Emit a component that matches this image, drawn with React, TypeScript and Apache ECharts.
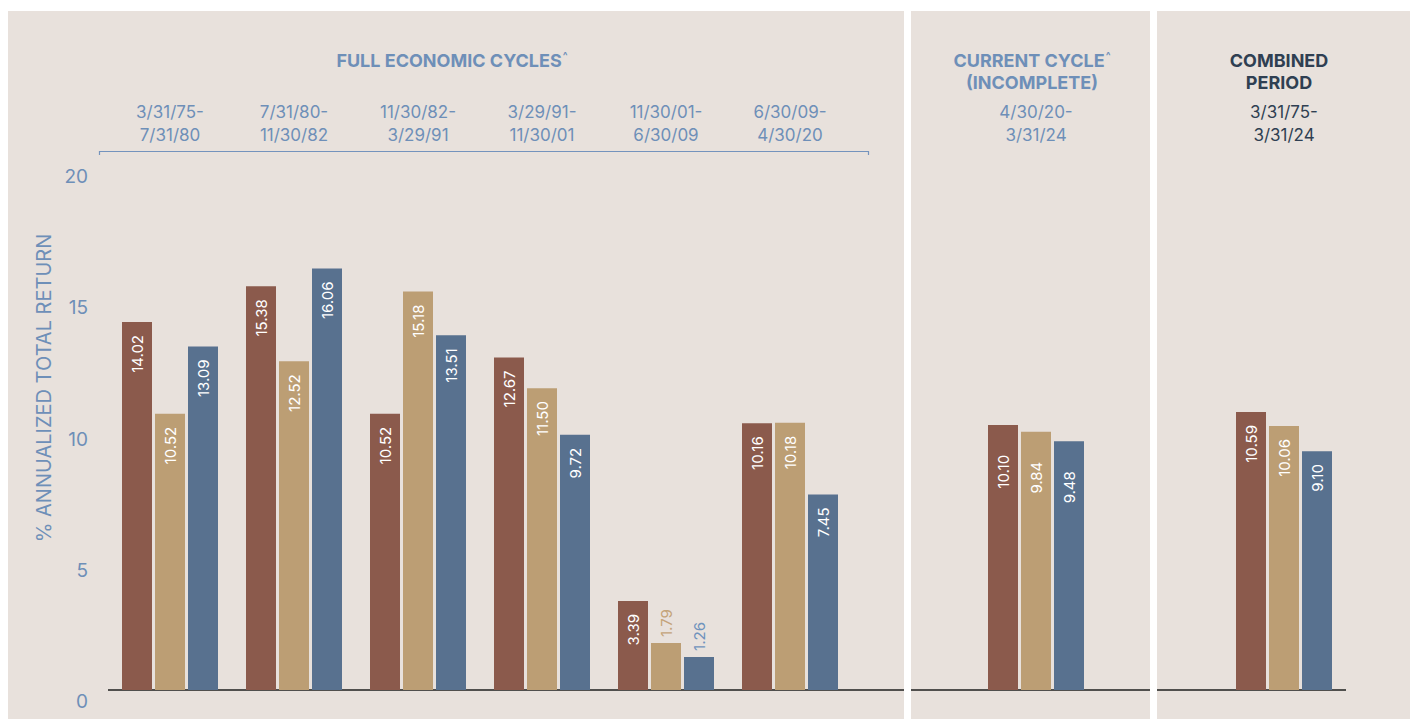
import React, { useEffect, useRef } from "react";
import * as echarts from "echarts";

const categories = [
  "3/31/75-\n7/31/80",
  "7/31/80-\n11/30/82",
  "11/30/82-\n3/29/91",
  "3/29/91-\n11/30/01",
  "11/30/01-\n6/30/09",
  "6/30/09-\n4/30/20",
  "4/30/20-\n3/31/24",
  "3/31/75-\n3/31/24",
];
const seriesNames = ["Series 1", "Series 2", "Series 3"];
const valuesA = [14.02, 15.38, 10.52, 12.67, 3.39, 10.16, 10.1, 10.59];
const valuesB = [10.52, 12.52, 15.18, 11.5, 1.79, 10.18, 9.84, 10.06];
const valuesC = [13.09, 16.06, 13.51, 9.72, 1.26, 7.45, 9.48, 9.1];
const yTicks = [0, 5, 10, 15, 20];
const panelRanges = [
  [0, 6],
  [6, 7],
  [7, 8],
];
const yAxisTitle = "% ANNUALIZED TOTAL RETURN";
const panelTitle1 = "FULL ECONOMIC CYCLES";
const panelTitle2 = ["CURRENT CYCLE", "(INCOMPLETE)"];
const panelTitle3 = ["COMBINED", "PERIOD"];

const BG = "#e8e1dc";
const BLUE_TEXT = "#6e8fb8";
const NAVY = "#2f3f52";
const BAR_COLORS = ["#8b5a4c", "#bc9e74", "#58718f"];
const OUT_LABEL_COLORS = ["#8b5a4c", "#c4a47a", "#7093bd"];
const FONT = "Inter, 'Noto Sans', sans-serif";

export default function App() {
  const ref = useRef<HTMLDivElement>(null);

  useEffect(() => {
    if (!ref.current) return;
    const chart = echarts.init(ref.current, undefined, { renderer: "svg" });
    const allValues = [valuesA, valuesB, valuesC];

    const grids = [
      { left: 108, width: 744, top: 165, height: 525 },
      { left: 974, width: 124, top: 165, height: 525 },
      { left: 1222, width: 124, top: 165, height: 525 },
    ];

    const xAxes = panelRanges.map((r, g) => ({
      type: "category",
      gridIndex: g,
      position: "top",
      data: categories.slice(r[0], r[1]),
      axisLine: { show: false },
      axisTick: { show: false },
      axisLabel: {
        show: true,
        margin: 19,
        fontSize: 17,
        lineHeight: 23,
        fontFamily: FONT,
        color: g === 2 ? NAVY : BLUE_TEXT,
        interval: 0,
      },
    }));

    const yAxes = panelRanges.map((_, g) => ({
      type: "value",
      gridIndex: g,
      min: yTicks[0],
      max: yTicks[yTicks.length - 1],
      interval: yTicks[1] - yTicks[0],
      splitLine: { show: false },
      axisLine: { show: false },
      axisTick: { show: false },
      axisLabel: {
        show: g === 0,
        margin: 20,
        fontSize: 19,
        fontFamily: FONT,
        color: BLUE_TEXT,
        verticalAlign: "top",
        padding: [2, 0, 0, 0],
      },
    }));

    const series: any[] = [];
    panelRanges.forEach((r, g) => {
      allValues.forEach((vals, s) => {
        series.push({
          name: seriesNames[s],
          type: "bar",
          xAxisIndex: g,
          yAxisIndex: g,
          barWidth: 30,
          barGap: "10%",
          z: 3,
          itemStyle: { color: BAR_COLORS[s] },
          label: {
            show: true,
            position: "insideTop",
            rotate: 90,
            align: "right",
            verticalAlign: "middle",
            distance: g === 1 ? 30 : 13,
            color: "#ffffff",
            fontSize: 15,
            fontFamily: FONT,
            formatter: (p: any) => Number(p.value).toFixed(2),
          },
          data: vals.slice(r[0], r[1]).map((v) =>
            v < 2
              ? {
                  value: v,
                  label: {
                    position: "top",
                    align: "left",
                    distance: 6,
                    color: OUT_LABEL_COLORS[s],
                  },
                }
              : v
          ),
        });
      });
    });

    const txt = (x: number, y: number, text: string, opts: any = {}) => ({
      type: "text",
      x,
      y,
      z: 20,
      silent: true,
      style: {
        text,
        align: "center",
        verticalAlign: "middle",
        textAlign: "center",
        textVerticalAlign: "middle",
        fontFamily: FONT,
        ...opts,
      },
    });

    const bRich = (fill: string) => ({
      fontSize: 18,
      fontWeight: "bold",
      fill,
      color: fill,
      fontFamily: FONT,
      lineHeight: 22,
    });
    const cRich = (fill: string) => ({
      fontSize: 10,
      fontWeight: "bold",
      fill,
      color: fill,
      fontFamily: FONT,
      lineHeight: 22,
      padding: [0, 0, 10, 1],
    });

    const graphic: any[] = [
      { type: "rect", z: 20, silent: true, shape: { x: 0, y: 0, width: 1410, height: 11 }, style: { fill: "#ffffff" } },
      { type: "rect", z: 20, silent: true, shape: { x: 0, y: 0, width: 8, height: 719 }, style: { fill: "#ffffff" } },
      { type: "rect", z: 20, silent: true, shape: { x: 904, y: 0, width: 7, height: 719 }, style: { fill: "#ffffff" } },
      { type: "rect", z: 20, silent: true, shape: { x: 1150, y: 0, width: 7, height: 719 }, style: { fill: "#ffffff" } },
      { type: "line", z: 1, silent: true, shape: { x1: 108, y1: 690, x2: 904, y2: 690 }, style: { stroke: "#1e1e1e", lineWidth: 1.5 } },
      { type: "line", z: 1, silent: true, shape: { x1: 911, y1: 690, x2: 1150, y2: 690 }, style: { stroke: "#1e1e1e", lineWidth: 1.5 } },
      { type: "line", z: 1, silent: true, shape: { x1: 1157, y1: 690, x2: 1346, y2: 690 }, style: { stroke: "#1e1e1e", lineWidth: 1.5 } },
      {
        type: "polyline",
        z: 1,
        silent: true,
        shape: { points: [[99.5, 155], [99.5, 151.5], [868.5, 151.5], [868.5, 155]] },
        style: { stroke: "#7493bd", lineWidth: 1.2, fill: null },
      },
      {
        type: "text",
        x: 44,
        y: 388,
        rotation: Math.PI / 2,
        z: 20,
        silent: true,
        style: {
          text: yAxisTitle,
          align: "center",
          verticalAlign: "middle",
          textAlign: "center",
          textVerticalAlign: "middle",
          fontFamily: FONT,
          fontSize: 20,
          fill: BLUE_TEXT,
        },
      },
      txt(452, 60, `{b|${panelTitle1}}{c|^}`, {
        rich: { b: bRich(BLUE_TEXT), c: cRich(BLUE_TEXT) },
      }),
      txt(1032, 71, `{b|${panelTitle2[0]}}{c|^}\n{b|${panelTitle2[1]}}`, {
        rich: { b: bRich(BLUE_TEXT), c: cRich(BLUE_TEXT) },
      }),
      txt(1279, 71, `${panelTitle3[0]}\n${panelTitle3[1]}`, {
        fontSize: 18,
        fontWeight: "bold",
        fill: NAVY,
        lineHeight: 22,
      }),
    ];

    chart.setOption({
      animation: false,
      backgroundColor: BG,
      textStyle: { fontFamily: FONT },
      grid: grids,
      xAxis: xAxes,
      yAxis: yAxes,
      series,
      graphic,
    });

    return () => chart.dispose();
  }, []);

  return (
    <div
      ref={ref}
      style={{ position: "fixed", left: 0, top: 0, width: 1410, height: 719 }}
    />
  );
}
